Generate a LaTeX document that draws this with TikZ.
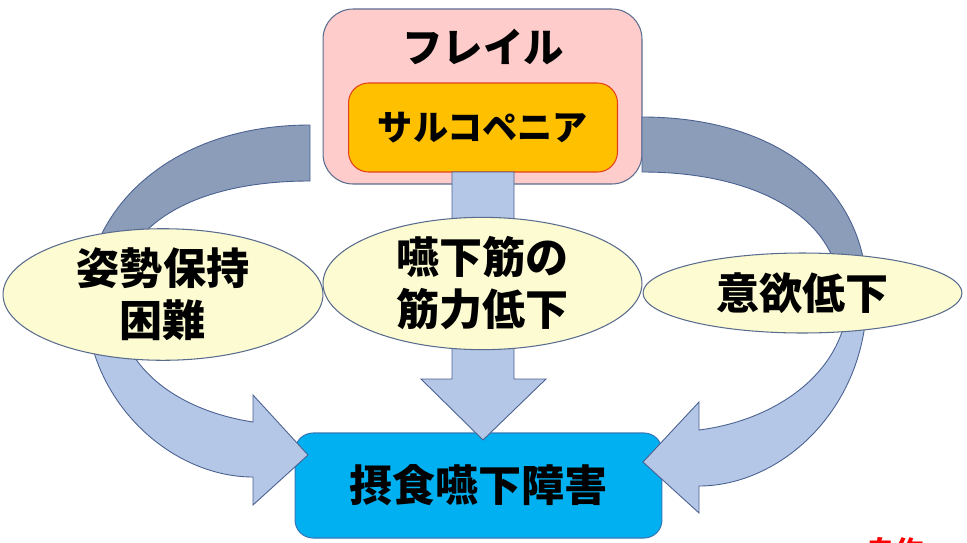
\documentclass[tikz,border=0pt]{standalone}
\usepackage{fontspec}
\setmainfont{Noto Sans CJK JP}
\usepackage{xcolor}
\definecolor{frailpink}{HTML}{FFCCCC}
\definecolor{frailedge}{HTML}{5A6C8E}
\definecolor{sarcoyellow}{HTML}{FFC000}
\definecolor{sarcoedge}{HTML}{E2401A}
\definecolor{causefill}{HTML}{FCFBD2}
\definecolor{dysphblue}{HTML}{00B0F0}
\definecolor{dysphedge}{HTML}{3478B8}
\definecolor{backband}{HTML}{8C9DBA}
\definecolor{frontband}{HTML}{B4C7E7}
\definecolor{bandedge}{HTML}{4A6090}
\usepackage{tikz}
\usetikzlibrary{shapes.geometric}

\begin{document}
\begin{tikzpicture}[
  x=0.02cm, y=-0.02cm,
  frailbox/.style={rectangle, rounded corners=0.6cm, draw=frailedge, fill=frailpink,
                   line width=0.6pt, minimum width=6.38cm, minimum height=3.5cm, inner sep=0pt},
  sarcobox/.style={rectangle, rounded corners=0.4cm, draw=sarcoedge, fill=sarcoyellow,
                   line width=0.6pt, minimum width=5.38cm, minimum height=1.78cm, inner sep=0pt},
  dysphbox/.style={rectangle, rounded corners=0.36cm, draw=dysphedge, fill=dysphblue,
                   line width=0.6pt, minimum width=7.34cm, minimum height=2.1cm, inner sep=0pt,
                   font=\bfseries\fontsize{24.5}{29}\selectfont},
  cause/.style={ellipse, draw=frailedge, fill=causefill, line width=0.6pt, inner sep=0pt,
                minimum width=6.4cm, align=center,
                font=\bfseries\fontsize{24.5}{29.6}\selectfont},
  back/.style={fill=backband, draw=bandedge, line width=0.5pt},
  front/.style={fill=frontband, draw=bandedge, line width=0.5pt},
]
\clip (0,0) rectangle (967,542);

% boxes
\node[frailbox] (frail) at (482.5,96.5) {};
\node[font=\bfseries\fontsize{23}{27}\selectfont] (frailtxt) at (483,47) {フレイル};
\node[sarcobox, font=\bfseries\fontsize{20}{24}\selectfont] (sarco) at (483,127.5) {サルコペニア};
\node[dysphbox] (dysph) at (478.5,485.5) {摂食嚥下障害};

% left curved arrow
\path[back] (310,125) .. controls (170,125) and (86,210) .. (86,300)
  -- (117,300) .. controls (117,228) and (190,181) .. (310,181) -- cycle;
\path[front] (86,300) .. controls (86,400) and (170,477) .. (253,477)
  -- (253,505) -- (308,455) -- (253,395) -- (253,422)
  .. controls (175,410) and (117,365) .. (117,300) -- cycle;

% right curved arrow
\path[back] (642,117) .. controls (780,117) and (867,190) .. (867,295)
  -- (840,295) .. controls (840,220) and (760,172) .. (642,172) -- cycle;
\path[front] (867,295) .. controls (867,410) and (780,486) .. (699,486)
  -- (699,513) -- (643,462) -- (699,402) -- (699,430)
  .. controls (778,420) and (848,370) .. (848,295) -- cycle;

% centre arrow
\path[front] (452,172) -- (514,172) -- (514,379) -- (546,379)
  -- (483,440) -- (421,379) -- (452,379) -- cycle;

% causes
\node[cause, minimum height=2.18cm] (posture) at (163,294.5) {姿勢保持\\困難};
\node[cause, minimum width=6.38cm, minimum height=2.34cm] (muscle) at (482.5,283.5) {嚥下筋の\\筋力低下};
\node[cause, minimum width=6.38cm, minimum height=1.6cm] (motiv) at (802.5,293) {意欲低下};

\node[text=red, font=\bfseries\fontsize{16}{19}\selectfont] (selfmade) at (895,551) {自作};
\end{tikzpicture}
\end{document}
